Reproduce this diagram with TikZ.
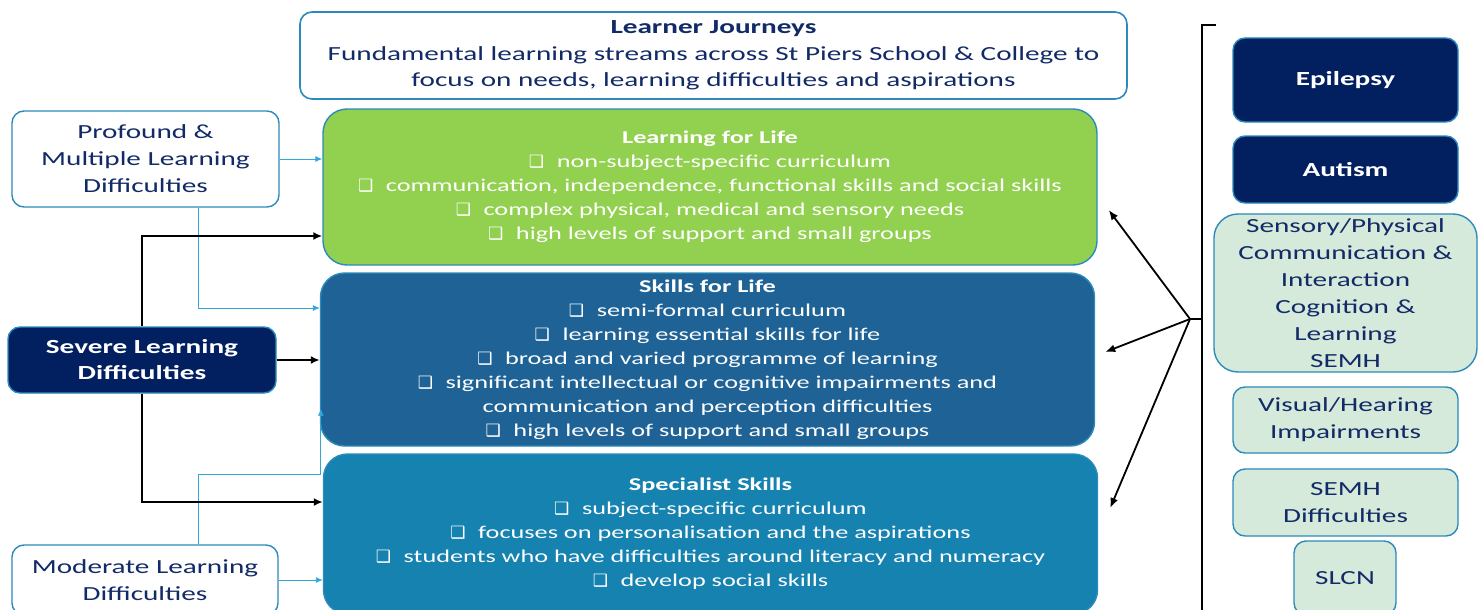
\documentclass[tikz,border=0pt]{standalone}
\usepackage{fontspec}
\setmainfont{Carlito}[FakeStretch=1.46]
\newfontfamily\boxfont{DejaVu Sans}
\usetikzlibrary{positioning,arrows.meta}

\definecolor{navytext}{RGB}{18,42,102}
\definecolor{navyfill}{RGB}{2,32,96}
\definecolor{edgeblue}{RGB}{44,138,188}
\definecolor{linkblue}{RGB}{48,168,220}
\definecolor{lifegreen}{RGB}{146,208,80}
\definecolor{skillblue}{RGB}{31,99,150}
\definecolor{specblue}{RGB}{21,130,175}
\definecolor{palegreen}{RGB}{213,234,219}

\newcommand{\tick}{{\boxfont\fontsize{17}{17}\selectfont ❑}\hspace{0.7em}}

\tikzset{
    headbox/.style={draw=edgeblue, line width=1.6pt, fill=white, text=navytext,
        rounded corners=12pt, align=center, inner sep=0pt},
    streambox/.style={draw=edgeblue, line width=1.4pt, text=white, rounded corners=24pt,
        align=center, inner sep=0pt, minimum width=774pt,
        font=\fontsize{18}{24}\selectfont},
    needbox/.style={draw=edgeblue, line width=1.4pt, text=navytext, rounded corners=12pt,
        align=center, inner sep=0pt, font=\fontsize{20}{27}\selectfont},
    darkneed/.style={needbox, fill=navyfill, text=white, font=\fontsize{20}{26}\selectfont\bfseries},
    paleneed/.style={needbox, fill=palegreen},
    lightarrow/.style={draw=linkblue, line width=0.9pt, -{Latex[length=7pt,width=6pt]}},
    darkarrow/.style={draw=black, line width=2.2pt, -{Latex[length=9pt,width=8pt]}},
    spoke/.style={draw=black, line width=1.8pt, -{Latex[length=10pt,width=8pt]}}
}

\begin{document}
\begin{tikzpicture}[x=1pt,y=-1pt]
    \useasboundingbox (0,0) rectangle (1483,610);
    \clip (0,0) rectangle (1483,610);

    % Title
    \node[headbox, minimum width=827pt, minimum height=87pt,
          font=\fontsize{20}{26.5}\selectfont] (title) at (713.5,55.5)
        {\textbf{Learner Journeys}\\
         Fundamental learning streams across St Piers School \& College to\\
         focus on needs, learning difficulties and aspirations};

    % The three learning streams
    \node[streambox, fill=lifegreen, minimum height=156pt] (lfl) at (710,187)
        {\textbf{Learning for Life}\\
         \tick non-subject-specific curriculum\\
         \tick communication, independence, functional skills and social skills\\
         \tick complex physical, medical and sensory needs\\
         \tick high levels of support and small groups};
    \node[streambox, fill=skillblue, minimum height=173pt] (sfl) at (707.5,359.5)
        {\textbf{Skills for Life}\\
         \tick semi-formal curriculum\\
         \tick learning essential skills for life\\
         \tick broad and varied programme of learning\\
         \tick significant intellectual or cognitive impairments and\\
         communication and perception difficulties\\
         \tick high levels of support and small groups};
    \node[streambox, fill=specblue, minimum height=160pt] (ss) at (710.5,534)
        {\textbf{Specialist Skills}\\
         \tick subject-specific curriculum\\
         \tick focuses on personalisation and the aspirations\\
         \tick students who have difficulties around literacy and numeracy\\
         \tick develop social skills};

    % Learner groups on the left
    \node[needbox, fill=white, minimum width=267pt, minimum height=96pt] (pmld) at (145.5,159)
        {Profound \&\\ Multiple Learning\\ Difficulties};
    \node[darkneed, minimum width=268pt, minimum height=66pt] (sld) at (142,360)
        {Severe Learning\\ Difficulties};
    \node[needbox, fill=white, minimum width=266pt, minimum height=70pt] (mld) at (145,580)
        {Moderate Learning\\ Difficulties};

    % Needs on the right
    \node[darkneed, minimum width=225pt, minimum height=84pt] (epi) at (1345.5,80) {Epilepsy};
    \node[darkneed, minimum width=225pt, minimum height=67pt] (aut) at (1345.5,169.5) {Autism};
    \node[paleneed, minimum width=263pt, minimum height=158pt, rounded corners=24pt] (sens) at (1345.5,293)
        {Sensory/Physical\\ Communication \&\\ Interaction\\ Cognition \&\\ Learning\\ SEMH};
    \node[paleneed, minimum width=225pt, minimum height=66pt] (vhi) at (1345.5,420)
        {Visual/Hearing\\ Impairments};
    \node[paleneed, minimum width=225pt, minimum height=67pt] (semh) at (1345.5,502.5)
        {SEMH\\ Difficulties};
    \node[paleneed, minimum width=102pt, minimum height=74pt] (slcn) at (1345,578) {SLCN};

    % Light links
    \draw[lightarrow] (pmld.east) -- (pmld.east -| lfl.west);
    \draw[lightarrow] ([xshift=53pt]pmld.south) |- ([yshift=51.5pt]sfl.west);
    \draw[lightarrow] (mld.east) -- (mld.east -| ss.west);
    \coordinate (mjoin) at ([xshift=-2pt,yshift=60pt]ss.west);
    \coordinate (mtip) at ([yshift=38pt]sfl.south);
    \draw[linkblue, line width=0.9pt] ([xshift=53pt]mld.north) |- (mjoin);
    \draw[lightarrow] (mjoin) -- (mjoin |- mtip);

    % Severe links
    \draw[darkarrow] (sld.north) |- ([yshift=-49pt]lfl.west);
    \draw[darkarrow] (sld.east) -- (sld.east -| sfl.west);
    \draw[darkarrow] (sld.south) |- ([yshift=32pt]ss.west);

    % Bracket and spokes
    \coordinate (brtop) at (1202,25);
    \coordinate (brbot) at (1202,615);
    \coordinate (hub) at (1190,319);
    \draw[line width=2pt] (1216,25) -- (brtop) -- (brbot);
    \draw[line width=1.8pt] (hub) -- (hub -| brtop);
    \draw[spoke] (hub) -- ([xshift=11pt,yshift=-23pt]lfl.east);
    \draw[spoke] (hub) -- ([xshift=10pt,yshift=7.5pt]sfl.east);
    \draw[spoke] (hub) -- ([xshift=12pt,yshift=26pt]ss.east);
\end{tikzpicture}
\end{document}
